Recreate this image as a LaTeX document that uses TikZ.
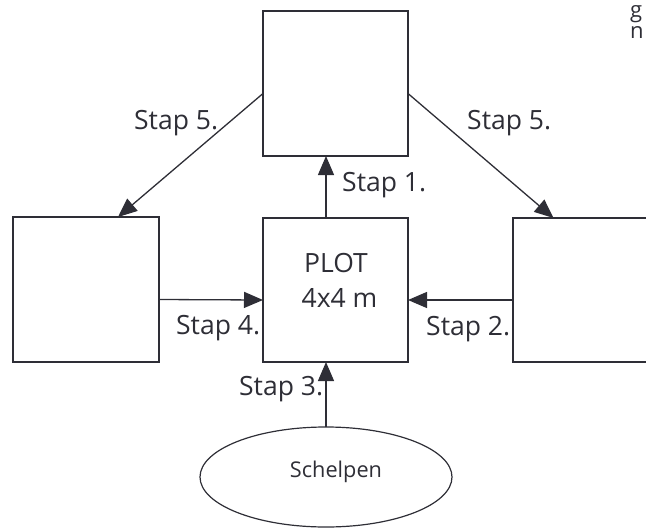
\documentclass[tikz,border=0pt]{standalone}
\usepackage{fontspec}
\setmainfont{Open Sans}
\usetikzlibrary{arrows.meta,shapes.geometric,calc}
\definecolor{ink}{HTML}{2E2E36}
\begin{document}
\begin{tikzpicture}[x=1pt,y=-1pt,
  box/.style={draw=ink,line width=1.2pt,inner sep=0pt,outer sep=0pt,
    minimum width=145pt,minimum height=145pt},
  arr/.style={draw=ink,line width=1.3pt,-{Triangle[length=19pt,width=16pt]}},
  lbl/.style={inner sep=0pt,text=ink,font=\fontsize{26.5}{30}\selectfont},
  small/.style={inner sep=0pt,text=ink,font=\fontsize{21.7}{26}\selectfont},
  edge text/.style={inner sep=0pt,text=ink,font=\fontsize{22}{26}\selectfont,anchor=base west}]
\useasboundingbox (0,0) rectangle (646,528);
\clip (0,0) rectangle (646,528);

% boxes
\node[box] (top)  at (335.5,83.5) {};
\node[box,minimum width=146pt] (lbox) at (86,289.5) {};
\node[box,minimum height=144pt] (plot) at (335.5,290) {};
\node[box,minimum height=144pt] (rbox) at (585.5,290) {};
\node[draw=ink,line width=1.2pt,ellipse,inner sep=0pt,outer sep=0pt,
  minimum width=252pt,minimum height=100pt] (ell) at (326,477) {};

% texts inside the shapes
\node[lbl,anchor=base] (plotA) at (336,272) {PLOT};
\node[lbl,anchor=base] (plotB) at (339.5,307) {4x4 m};
\node[small,anchor=base] (shells) at (336,477) {Schelpen};

% connectors
\draw[arr] ([yshift=-10pt]top.west) -- ([xshift=32pt]lbox.north);
\draw[arr] ([yshift=-10pt]top.east) -- ([xshift=-32pt]rbox.north);
\draw[arr] ([xshift=-9.5pt]plot.north) -- ([xshift=-9.5pt]top.south);
\draw[arr] ([yshift=-10pt]lbox.east) -- ([yshift=-10pt]plot.west);
\draw[arr] ([yshift=-10pt]rbox.west) -- ([yshift=-10pt]plot.east);
\draw[arr] (ell.north) -- (ell.north |- plot.south);

% step labels
\node[lbl,anchor=base west] (s5a) at (134,129) {Stap 5.};
\node[lbl,anchor=base west] (s5b) at (467,129) {Stap 5.};
\node[lbl,anchor=base west] (s1)  at (342,191) {Stap 1.};
\node[lbl,anchor=base west] (s4)  at (176,334) {Stap 4.};
\node[lbl,anchor=base west] (s2)  at (426,335) {Stap 2.};
\node[lbl,anchor=base west] (s3)  at (239,395) {Stap 3.};

% running text at the right edge
\node[edge text] (g) at (630,17) {g};
\node[edge text] (n) at (630,38) {n};
\end{tikzpicture}
\end{document}
